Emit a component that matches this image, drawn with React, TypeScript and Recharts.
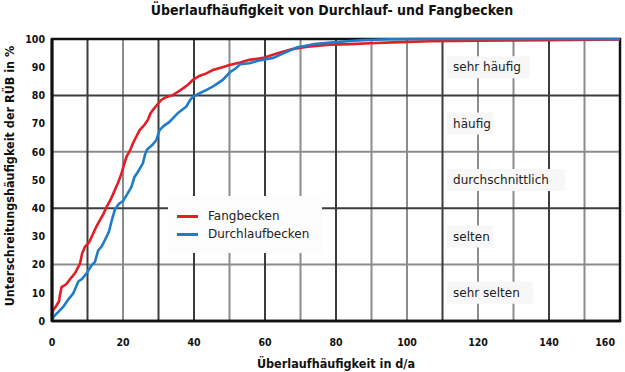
import { LineChart, Line, XAxis, YAxis, CartesianGrid, ReferenceArea, Legend } from "recharts"

// Fangbecken (red)
const fangbeckenX = [
  0, 0.4, 1, 2, 2.2, 2.7, 4, 5.5, 6.5, 7.9, 8.5, 9.3, 10.5, 11.6, 12.5, 13.5, 14.5, 15.4, 16.5, 17.7,
  18.6, 19.6, 20.3, 21, 22, 22.8, 23.8, 24.7, 26, 27, 27.7, 28.4, 29.5, 30.8, 32, 34, 35.5, 36.9, 38.3,
  39.7, 41.5, 43.5, 45.3, 48, 50, 53, 55.6, 59.5, 62, 65, 68, 72, 78.3, 84, 89.6, 96, 106.5, 120, 140, 160,
]
const fangbeckenY = [
  2, 4, 5, 7, 9, 12, 13, 15.5, 17, 20.4, 24, 26.3, 28, 31, 33.5, 35.8, 38, 40.5, 43, 46.4,
  49, 52.4, 55.5, 58.3, 60.5, 63, 65.5, 67.7, 69.5, 71.3, 73.5, 74.8, 76.5, 78.4, 79.3, 80.1, 81.3, 82.5, 83.8,
  85.5, 86.9, 87.8, 89, 90, 90.8, 91.7, 92.6, 93.3, 94.3, 95.5, 96.5, 97.3, 98, 98.2, 98.5, 98.8, 99.2, 99.4, 99.6, 99.8,
]

// Durchlaufbecken (blue)
const durchlaufX = [
  0, 0.8, 2, 3.2, 4.5, 6, 7.4, 8.5, 9.8, 11, 12.1, 13, 14, 14.9, 16, 16.8, 17.7, 18.8, 20, 21.2,
  22.4, 23.2, 24, 25.6, 26.2, 26.8, 28.3, 29.4, 30.3, 31.5, 33, 34.5, 35.5, 37.8, 39, 39.7, 41.5, 43.4, 45.5,
  48.1, 50.1, 51.8, 53, 55.6, 58, 62.3, 65, 68.9, 74, 79.2, 84, 87.7, 95, 105, 160,
]
const durchlaufY = [
  0.5, 2, 3.5, 5.1, 7.5, 9.8, 14, 15, 17, 19.5, 21, 25, 26.5, 28.7, 31.5, 35.5, 39.4, 41.5, 42.5, 45,
  47.6, 51, 52.5, 55.9, 59, 60.8, 62.5, 64.2, 67.7, 69.2, 70.5, 72.5, 73.8, 76, 78.5, 79.5, 80.7, 81.9, 83.3,
  85.5, 88.2, 89.6, 91.1, 91.4, 92.3, 93.3, 94.8, 97, 98.2, 98.8, 99.3, 99.6, 99.9, 100, 100,
]

const xTicks = [0, 20, 40, 60, 80, 100, 120, 140, 160]
const yTicks = [0, 10, 20, 30, 40, 50, 60, 70, 80, 90, 100]
const gridDarkX = [10, 30, 40, 60, 80, 110, 140]
const gridLightX = [20, 50, 70, 90, 100, 120, 130, 150]
const gridDarkY = [40, 80]
const gridLightY = [20, 60]

const zoneLabels = ["sehr selten", "selten", "durchschnittlich", "häufig", "sehr häufig"]
const zoneCenters = [10, 30, 50, 70, 90]
const zoneEnds = [135.5, 124.2, 144.5, 124.2, 134.6]

const fangData = fangbeckenX.map((x, i) => ({ x, y: fangbeckenY[i] }))
const durchlaufData = durchlaufX.map((x, i) => ({ x, y: durchlaufY[i] }))

const RED = "#e31e26"
const BLUE = "#1e7cca"
const DARK = "#3c3c3c"
const LIGHT = "#8c8c8c"
const BOLD_FONT = "'DejaVu Sans Condensed', 'DejaVu Sans', sans-serif"
const TEXT_FONT = "'DejaVu Sans', sans-serif"

function XTick({ x, y, payload }: any) {
  const last = payload.value === xTicks[xTicks.length - 1]
  return (
    <text
      x={last ? x + 2 : x}
      y={y}
      dy="0.71em"
      textAnchor={last ? "end" : "middle"}
      fill="#111"
      fontSize={10.5}
      fontWeight="bold"
      fontFamily={BOLD_FONT}
    >
      {payload.value}
    </text>
  )
}

function LegendBox() {
  const items = [
    { label: "Fangbecken", color: RED },
    { label: "Durchlaufbecken", color: BLUE },
  ]
  return (
    <div style={{ background: "#fcfcfc", width: 154, height: 57, boxSizing: "border-box", padding: "11px 0 0 9px" }}>
      {items.map((it) => (
        <div key={it.label} style={{ display: "flex", alignItems: "center", height: 18, fontFamily: TEXT_FONT, fontSize: 12, color: "#222" }}>
          <span style={{ display: "inline-block", width: 21, height: 3, background: it.color, marginRight: 10 }} />
          {it.label}
        </div>
      ))}
    </div>
  )
}

export default function App() {
  return (
    <div style={{ position: "absolute", left: 0, top: 0, width: 625, height: 372, background: "#fff" }}>
      <div
        style={{
          position: "absolute",
          left: 0,
          width: 664,
          top: 2,
          textAlign: "center",
          fontFamily: BOLD_FONT,
          fontWeight: "bold",
          fontSize: 14,
          color: "#111",
        }}
      >
        Überlaufhäufigkeit von Durchlauf- und Fangbecken
      </div>
      <LineChart width={625} height={372} margin={{ top: 39, right: 5, bottom: 21, left: 0 }}>
        <CartesianGrid stroke={LIGHT} strokeWidth={2} verticalValues={gridLightX} horizontalValues={gridLightY} />
        <CartesianGrid stroke={DARK} strokeWidth={2} verticalValues={gridDarkX} horizontalValues={gridDarkY} />
        <XAxis
          type="number"
          dataKey="x"
          domain={[0, 160]}
          ticks={xTicks}
          allowDuplicatedCategory={false}
          height={30}
          tickLine={false}
          tickSize={6}
          tickMargin={12}
          axisLine={{ stroke: "#111", strokeWidth: 2.5 }}
          tick={<XTick />}
          label={{
            content: ({ viewBox }: any) => (
              <text
                x={viewBox.x + viewBox.width / 2}
                y={368}
                textAnchor="middle"
                fill="#111"
                fontSize={12.5}
                fontWeight="bold"
                fontFamily={BOLD_FONT}
              >
                Überlaufhäufigkeit in d/a
              </text>
            ),
          }}
        />
        <YAxis
          type="number"
          dataKey="y"
          domain={[0, 100]}
          ticks={yTicks}
          width={52}
          tickLine={false}
          tickSize={4}
          tickMargin={3}
          axisLine={{ stroke: "#111", strokeWidth: 3 }}
          tick={{ fill: "#111", fontSize: 10.5, fontWeight: "bold", fontFamily: BOLD_FONT }}
          label={{
            content: ({ viewBox }: any) => (
              <text
                transform={`translate(14, ${viewBox.y + viewBox.height / 2 - 4}) rotate(-90)`}
                textAnchor="middle"
                fill="#111"
                fontSize={12.5}
                fontWeight="bold"
                fontFamily={BOLD_FONT}
              >
                Unterschreitungshäufigkeit der RÜB in %
              </text>
            ),
          }}
        />
        {zoneLabels.map((name, i) => (
          <ReferenceArea
            key={name}
            x1={111.3}
            x2={zoneEnds[i]}
            y1={zoneCenters[i] - 3.9}
            y2={zoneCenters[i] + 3.9}
            fill="#f7f7f7"
            fillOpacity={1}
            stroke="none"
            label={{
              value: name,
              position: "insideLeft",
              offset: 6,
              fill: "#222",
              fontSize: 12,
              fontFamily: TEXT_FONT,
            }}
          />
        ))}
        <ReferenceArea x1={0} x2={160} y1={0} y2={100} fill="none" stroke="#111" strokeWidth={2.5} />
        <Line
          data={fangData}
          dataKey="y"
          name="Fangbecken"
          type="linear"
          stroke={RED}
          strokeWidth={2.6}
          dot={false}
          isAnimationActive={false}
        />
        <Line
          data={durchlaufData}
          dataKey="y"
          name="Durchlaufbecken"
          type="linear"
          stroke={BLUE}
          strokeWidth={2.6}
          dot={false}
          isAnimationActive={false}
        />
        <Legend
          layout="vertical"
          align="center"
          verticalAlign="middle"
          wrapperStyle={{ left: 168, top: 196, width: 154, height: 57 }}
          content={() => <LegendBox />}
        />
      </LineChart>
    </div>
  )
}
